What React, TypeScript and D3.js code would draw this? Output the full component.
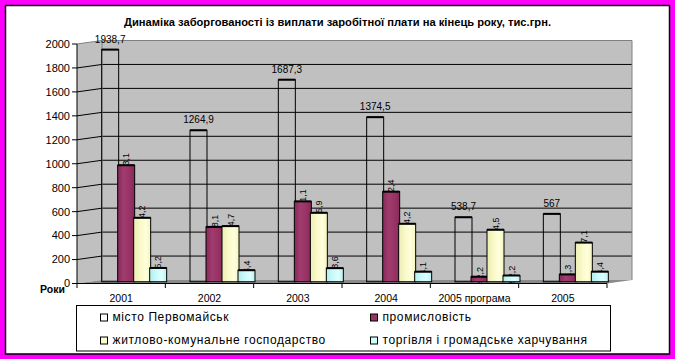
import React from 'react';
import * as d3 from 'd3';

const categories = ['2001', '2002', '2003', '2004', '2005 програма', '2005'];
const seriesNames = [
  'місто Первомайськ',
  'промисловість',
  'житлово-комунальне господарство',
  'торгівля і громадське харчування',
];
const city = [1938.7, 1264.9, 1687.3, 1374.5, 538.7, 567];
const industry = [973.1, 458.1, 671.1, 752.4, 42.2, 61.3];
const housing = [534.2, 464.7, 575.9, 484.2, 434.5, 327.1];
const trade = [115.2, 96.4, 113.6, 84.1, 52.2, 84.4];
const yTicks = [0, 200, 400, 600, 800, 1000, 1200, 1400, 1600, 1800, 2000];
const title = 'Динаміка заборгованості із виплати заробітної плати на кінець року, тис.грн.';
const axisTitle = 'Роки';

const seriesValues = [city, industry, housing, trade];
const fills = ['none', 'url(#gPurple)', 'url(#gYellow)', 'url(#gCyan)'];
const swatch = ['#FFFFFF', '#993366', '#FFFFCC', '#CCFFFF'];

const FONT = "Arial, 'Liberation Sans', sans-serif";
const fmt = (v: number) => String(v).replace('.', ',');

export default function App() {
  const W = 675, H = 359;
  const depthX = 25;
  const xFrontL = 77, xFrontR = 607;
  const yFront = d3.scaleLinear().domain([0, 2000]).range([283.5, 44]);
  const yBack = d3.scaleLinear().domain([0, 2000]).range([280, 40.5]);
  const yMid = d3.scaleLinear().domain([0, 2000]).range([281.75, 42.25]);
  const xBand = d3.scaleBand<string>().domain(categories).range([xFrontL, xFrontR]);
  const sBand = d3.scaleBand<string>().domain(seriesNames).range([-32, 32]);
  const backL = xFrontL + depthX, backR = xFrontR + depthX;

  const line = d3.line();

  const bars: React.ReactNode[] = [];
  categories.forEach((c, i) => {
    const cx = (xBand(c) as number) + xBand.bandwidth() / 2 + depthX / 2;
    seriesNames.forEach((s, j) => {
      const v = seriesValues[j][i];
      const bx = cx + (sBand(s) as number);
      const bw = sBand.bandwidth() + 1;
      const top = yMid(v);
      const bottom = yMid(0);
      const mid = bx + bw / 2;
      if (j > 0) {
        bars.push(
          <text key={`l${i}-${j}`} transform={`translate(${mid + 3},${top - 1}) rotate(-90)`}
            textAnchor="middle" fontSize={9} fontFamily={FONT} fill="#000">{fmt(v)}</text>
        );
      }
      bars.push(
        <g key={`b${i}-${j}`}>
          <rect x={bx} y={top} width={bw} height={bottom - top} fill={fills[j]} stroke="#000" strokeWidth={1} />
          <line x1={bx} x2={bx + bw} y1={top} y2={top} stroke="#000" strokeWidth={2} />
        </g>
      );
      if (j === 0) {
        bars.push(
          <text key={`l${i}-${j}`} x={mid} y={top - 7} textAnchor="middle" fontSize={10} fontFamily={FONT} fill="#000">{fmt(v)}</text>
        );
      }
    });
  });

  return (
    <svg width={W} height={H} style={{ position: 'absolute', left: 0, top: 0 }} xmlns="http://www.w3.org/2000/svg">
      <defs>
        <linearGradient id="gPurple" x1="0" x2="1" y1="0" y2="0">
          <stop offset="0" stopColor="#86295a" />
          <stop offset="0.35" stopColor="#a03c6e" />
          <stop offset="0.7" stopColor="#993366" />
          <stop offset="1" stopColor="#842a58" />
        </linearGradient>
        <linearGradient id="gYellow" x1="0" x2="1" y1="0" y2="0">
          <stop offset="0" stopColor="#ececb4" />
          <stop offset="0.35" stopColor="#f8f8c6" />
          <stop offset="0.7" stopColor="#ffffdc" />
          <stop offset="1" stopColor="#f4f4c0" />
        </linearGradient>
        <linearGradient id="gCyan" x1="0" x2="1" y1="0" y2="0">
          <stop offset="0" stopColor="#b4ecec" />
          <stop offset="0.35" stopColor="#c8fafa" />
          <stop offset="0.7" stopColor="#dcffff" />
          <stop offset="1" stopColor="#bcf0f0" />
        </linearGradient>
      </defs>
      <rect x={0} y={0} width={W} height={H} fill="#FF00FF" />
      <rect x={5.5} y={5.5} width={664} height={348.5} fill="#FFFFFF" stroke="#000" strokeWidth={1.5} />

      <text x={337.5} y={26} textAnchor="middle" fontSize={10.5} fontWeight="bold" fontFamily={FONT}
        textLength={427} lengthAdjust="spacingAndGlyphs">{title}</text>

      {/* walls */}
      <path d={line([[xFrontL, yFront(2000)], [backL, yBack(2000)], [backL, yBack(0)], [xFrontL, yFront(0)]]) + 'Z'} fill="#C0C0C0" />
      <rect x={backL} y={yBack(2000)} width={backR - backL} height={yBack(0) - yBack(2000)} fill="#C0C0C0" />
      <path d={line([[xFrontL, yFront(0)], [xFrontR, yFront(0)], [backR, yBack(0)], [backL, yBack(0)]]) + 'Z'} fill="#8a8a8a" />

      {yTicks.filter(t => t > 0 && t < 2000).map(t => (
        <path key={`g${t}`} d={line([[xFrontL, yFront(t)], [backL, yBack(t)], [backR, yBack(t)]]) as string}
          fill="none" stroke="#000" strokeWidth={1} />
      ))}
      <path d={line([[xFrontL, yFront(2000)], [backL, yBack(2000)], [backR, yBack(2000)], [backR, yBack(0)]]) as string}
        fill="none" stroke="#808080" strokeWidth={1} />
      <line x1={backL} x2={backL} y1={yBack(2000)} y2={yBack(0)} stroke="#808080" strokeWidth={1} />

      {bars}

      {/* axes */}
      <line x1={xFrontL} x2={xFrontL} y1={yFront(2000)} y2={yFront(0)} stroke="#000" />
      <line x1={xFrontL} x2={xFrontR} y1={yFront(0)} y2={yFront(0)} stroke="#000" />
      {yTicks.map(t => (
        <g key={`yt${t}`}>
          <line x1={xFrontL - 5} x2={xFrontL} y1={yFront(t)} y2={yFront(t)} stroke="#000" />
          <text x={xFrontL - 7} y={yFront(t)} dy="0.35em" textAnchor="end" fontSize={11} fontFamily={FONT}>{t}</text>
        </g>
      ))}
      {categories.map((c, i) => (
        <line key={`xt${i}`} x1={xBand(c) as number} x2={xBand(c) as number} y1={yFront(0)} y2={yFront(0) + 4.5} stroke="#000" />
      ))}
      <line x1={xFrontR} x2={xFrontR} y1={yFront(0)} y2={yFront(0) + 4.5} stroke="#000" />
      {categories.map(c => (
        <text key={`xl${c}`} x={(xBand(c) as number) + xBand.bandwidth() / 2} y={302} textAnchor="middle" fontSize={10.5} fontFamily={FONT}>{c}</text>
      ))}
      <text x={40} y={293} fontSize={10.5} fontWeight="bold" fontFamily={FONT}>{axisTitle}</text>

      {/* legend */}
      <rect x={76.5} y={305.5} width={534} height={45.5} fill="#FFFFFF" stroke="#000" />
      {seriesNames.map((s, j) => {
        const col = j % 2, row = Math.floor(j / 2);
        const lx = col === 0 ? 100 : 370;
        const ly = row === 0 ? 313.5 : 336.5;
        return (
          <g key={`lg${j}`}>
            <rect x={lx + 0.5} y={ly + 0.5} width={7} height={7} fill={swatch[j]} stroke="#000" />
            <text x={lx + 12.5} y={ly + 7.5} fontSize={12} letterSpacing={0.6} fontFamily={FONT}>{s}</text>
          </g>
        );
      })}
    </svg>
  );
}
